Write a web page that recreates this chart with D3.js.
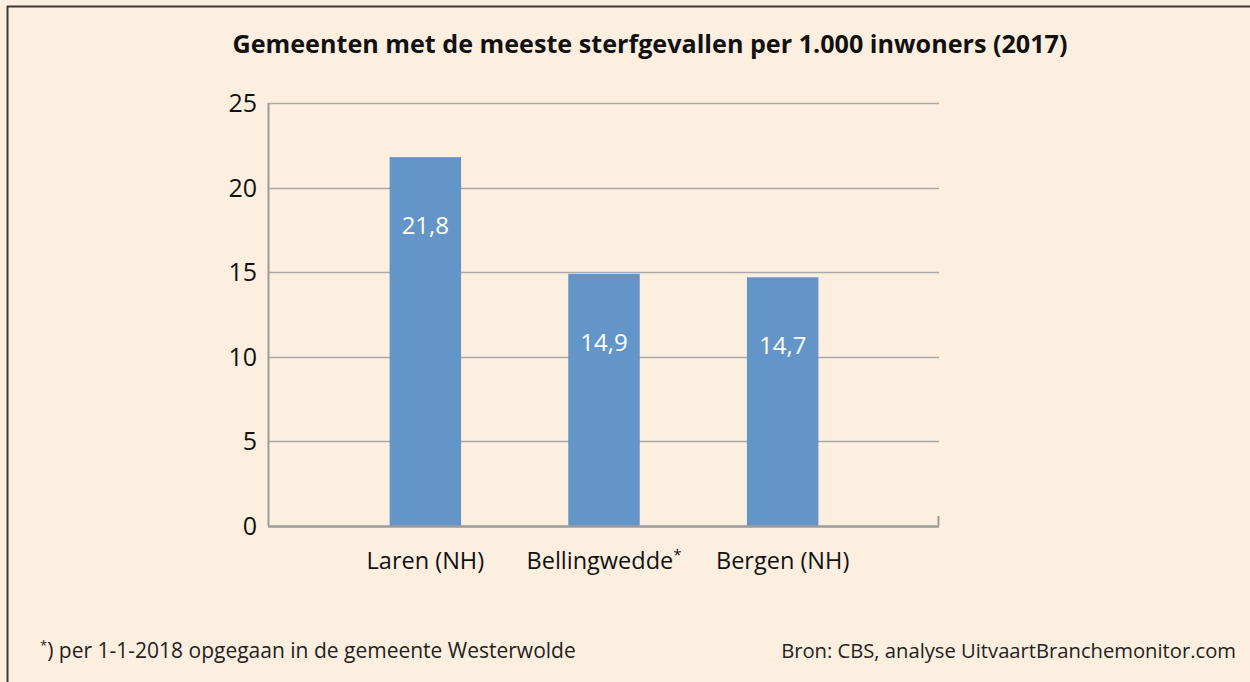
<!DOCTYPE html>
<html>
<head>
<meta charset="utf-8">
<script src="https://cdn.jsdelivr.net/npm/d3@7"></script>
<style>
  body { margin: 0; background: #fcefdf; }
  svg text { font-family: "Open Sans", "Noto Sans", sans-serif; }
</style>
</head>
<body>
<svg id="chart" width="1250" height="682"></svg>
<script>
// chart data
var categories = ["Laren (NH)", "Bellingwedde", "Bergen (NH)"];
var values = [21.8, 14.9, 14.7];
var valueLabels = ["21,8", "14,9", "14,7"];
var yTicks = [0, 5, 10, 15, 20, 25];
var title = "Gemeenten met de meeste sterfgevallen per 1.000 inwoners (2017)";
var footLeft = ") per 1-1-2018 opgegaan in de gemeente Westerwolde";
var footRight = "Bron: CBS, analyse UitvaartBranchemonitor.com";

var svg = d3.select("#chart");

svg.append("rect")
    .attr("width", 1250).attr("height", 682)
    .attr("fill", "#fcefdf");

// frame (top + left only)
svg.append("line").attr("x1", 7).attr("x2", 1250).attr("y1", 6.5).attr("y2", 6.5)
    .attr("stroke", "#3a3a3a").attr("stroke-width", 2);
svg.append("line").attr("x1", 7.5).attr("x2", 7.5).attr("y1", 6).attr("y2", 682)
    .attr("stroke", "#3a3a3a").attr("stroke-width", 2);

var plotLeft = 268, plotRight = 939, plotTop = 103, plotBottom = 526;

var y = d3.scaleLinear().domain([0, 25]).range([plotBottom, plotTop]);
var x = d3.scaleBand().domain(categories).range([336, 872])
    .paddingInner(0.6).paddingOuter(0.3);

// gridlines
svg.append("g").selectAll("line")
    .data(yTicks.filter(function (d) { return d > 0; }))
    .enter().append("line")
    .attr("x1", plotLeft).attr("x2", plotRight)
    .attr("y1", function (d) { return Math.round(y(d)) + 0.5; })
    .attr("y2", function (d) { return Math.round(y(d)) + 0.5; })
    .attr("stroke", "#a9a9a9").attr("stroke-width", 1.3);

// bars
svg.append("g").selectAll("rect")
    .data(values)
    .enter().append("rect")
    .attr("x", function (d, i) { return x(categories[i]); })
    .attr("width", x.bandwidth())
    .attr("y", function (d) { return y(d); })
    .attr("height", function (d) { return plotBottom - y(d); })
    .attr("fill", "#6395c8");

// value labels
svg.append("g").selectAll("text")
    .data(values)
    .enter().append("text")
    .attr("x", function (d, i) { return x(categories[i]) + x.bandwidth() / 2; })
    .attr("y", function (d) { return y(d) + 77; })
    .attr("text-anchor", "middle")
    .attr("font-size", 24)
    .attr("fill", "#ffffff")
    .text(function (d, i) { return valueLabels[i]; });

// axis lines
svg.append("line").attr("x1", plotLeft + 0.5).attr("x2", plotLeft + 0.5).attr("y1", plotTop).attr("y2", plotBottom)
    .attr("stroke", "#9c9c9c").attr("stroke-width", 2);
svg.append("line").attr("x1", plotLeft).attr("x2", plotRight).attr("y1", plotBottom + 0.5).attr("y2", plotBottom + 0.5)
    .attr("stroke", "#9c9c9c").attr("stroke-width", 2.5);
svg.append("line").attr("x1", plotRight - 0.5).attr("x2", plotRight - 0.5).attr("y1", plotBottom - 10).attr("y2", plotBottom)
    .attr("stroke", "#9c9c9c").attr("stroke-width", 2);

// y tick labels
svg.append("g").selectAll("text")
    .data(yTicks)
    .enter().append("text")
    .attr("x", 257)
    .attr("y", function (d) { return y(d) + 9; })
    .attr("text-anchor", "end")
    .attr("font-size", 25)
    .attr("fill", "#111")
    .text(function (d) { return d; });

// category labels
var cat = svg.append("g").selectAll("text")
    .data(categories)
    .enter().append("text")
    .attr("x", function (d) { return x(d) + x.bandwidth() / 2; })
    .attr("y", 569)
    .attr("text-anchor", "middle")
    .attr("font-size", 23.5)
    .attr("fill", "#111");
cat.append("tspan").text(function (d) { return d; });
cat.filter(function (d) { return d === "Bellingwedde"; })
    .append("tspan").attr("dy", -9).attr("font-size", 15).text("*");

// title
svg.append("text")
    .attr("x", 650).attr("y", 53)
    .attr("text-anchor", "middle")
    .attr("font-size", 25).attr("font-weight", "bold")
    .attr("textLength", 835).attr("lengthAdjust", "spacingAndGlyphs")
    .attr("fill", "#111")
    .text(title);

// footer
var fl = svg.append("text")
    .attr("x", 40).attr("y", 658)
    .attr("font-size", 21).attr("fill", "#222");
fl.append("tspan").attr("font-size", 13).attr("dy", -8).text("*");
fl.append("tspan").attr("dy", 8).text(footLeft);

svg.append("text")
    .attr("x", 1236).attr("y", 658)
    .attr("text-anchor", "end")
    .attr("font-size", 20.2).attr("fill", "#222")
    .text(footRight);
</script>
</body>
</html>
